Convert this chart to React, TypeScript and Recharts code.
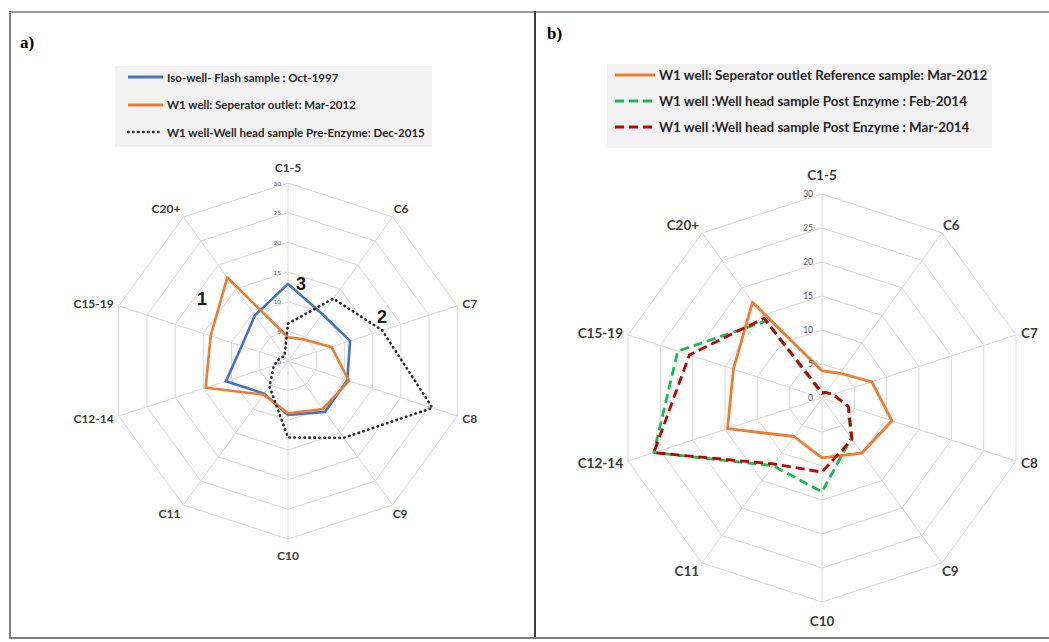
import React from 'react';
import { RadarChart, Radar, PolarGrid, PolarAngleAxis, PolarRadiusAxis } from 'recharts';

// carbon number groups, clockwise from the top
const categories = ['C1-5', 'C6', 'C7', 'C8', 'C9', 'C10', 'C11', 'C12-14', 'C15-19', 'C20+'];

// panel a)
const isoFlash1997 = [13, 9.8, 11, 10.5, 10.6, 9.1, 6.8, 11, 8.2, 9.5];
const separator2012 = [4, 4.5, 7.7, 10.8, 10, 8.8, 7, 14.6, 13.7, 17.4];
const preEnzymeDec2015 = [6.3, 13, 16.7, 25.6, 16, 12.9, 5.3, 2.5, 1.5, 1];

// panel b)
const postEnzymeFeb2014 = [0.6, 1, 1.7, 4, 7.3, 13.8, 12.3, 26, 22.3, 14];
const postEnzymeMar2014 = [0.8, 1, 1.7, 4.1, 7.5, 10.9, 12, 26, 20.5, 14.5];

const radiusTicks = [0, 5, 10, 15, 20, 25, 30];

const seriesA = [
  { key: 'iso', name: 'Iso-well- Flash sample : Oct-1997', values: isoFlash1997, color: '#4472C4', dash: undefined },
  { key: 'sep', name: 'W1 well: Seperator outlet: Mar-2012', values: separator2012, color: '#ED7D31', dash: undefined },
  { key: 'pre', name: 'W1 well-Well head sample Pre-Enzyme: Dec-2015', values: preEnzymeDec2015, color: '#262626', dash: 'dot' },
];

const seriesB = [
  { key: 'sep', name: 'W1 well: Seperator outlet Reference sample: Mar-2012', values: separator2012, color: '#ED7D31', dash: undefined },
  { key: 'feb', name: 'W1 well :Well head sample Post Enzyme : Feb-2014', values: postEnzymeFeb2014, color: '#1DB954', dash: '9 5' },
  { key: 'mar', name: 'W1 well :Well head sample Post Enzyme : Mar-2014', values: postEnzymeMar2014, color: '#C00000', dash: '9 5' },
];

const buildRows = (series: typeof seriesA) =>
  categories.map((c, i) => {
    const row: any = { cat: c };
    series.forEach(s => { row[s.key] = s.values[i]; });
    return row;
  });

const FONT = 'Lato, "Open Sans", sans-serif';

// label placement round the outer ring (anchor, dx, dy from the vertex)
const place = (i: number, top: number): [string, number, number] => {
  switch (i) {
    case 0: return ['middle', 0, -top];
    case 1: return ['start', 1, -8];
    case 2: return ['start', 5, -2];
    case 3: return ['start', 5, 2];
    case 4: return ['start', 0, 8];
    case 5: return ['middle', 0, top];
    case 6: return ['end', -3, 8];
    case 7: return ['end', -5, 2];
    case 8: return ['end', -5, -2];
    default: return ['end', -3, -8];
  }
};

const angleTick = (cx: number, cy: number, R: number, fontSize: number, top: number) => (props: any) => {
  const i = categories.indexOf(props.payload.value);
  const th = ((90 - 36 * i) * Math.PI) / 180;
  const vx = cx + R * Math.cos(th);
  const vy = cy - R * Math.sin(th);
  const [anchor, dx, dy] = place(i, top);
  return (
    <text x={vx + dx} y={vy + dy} textAnchor={anchor as any} dominantBaseline="central"
      fontSize={fontSize} fontWeight={700} fill="#3A3A3A" fontFamily={FONT}>
      {props.payload.value}
    </text>
  );
};

const radiusTick = (fontSize: number, gap: number) => (props: any) => (
  <text x={props.x - gap} y={props.y} textAnchor="end" dominantBaseline="central"
    fontSize={fontSize} fill="#595959" fontFamily={FONT}>
    {props.payload.value}
  </text>
);

function Legend({ series, left, top, width, height, rowGap, fontSize, sample }: any) {
  return (
    <div style={{ position: 'absolute', left, top, width, height, background: '#F2F2F2', fontFamily: FONT }}>
      {series.map((s: any, i: number) => (
        <div key={s.key} style={{ position: 'absolute', left: 0, top: 11 + i * rowGap - 8, height: 16, display: 'flex', alignItems: 'center' }}>
          <svg width={sample[1]} height={16} style={{ flex: 'none' }}>
            <line x1={sample[0]} x2={sample[1] - 2} y1={8} y2={8} stroke={s.color}
              strokeWidth={s.dash === 'dot' ? 2.6 : 3}
              strokeDasharray={s.dash === 'dot' ? '0.5 4.5' : s.dash}
              strokeLinecap={s.dash === 'dot' ? 'round' : 'butt'} />
          </svg>
          <span style={{ fontSize, fontWeight: 700, color: '#262626', whiteSpace: 'nowrap', marginLeft: 2 }}>{s.name}</span>
        </div>
      ))}
    </div>
  );
}

function Panel({ series, width, cx, cy, R, labelSize, tickSize, tickGap, top, lineWidth }: any) {
  const rows = buildRows(series);
  return (
    <RadarChart width={width} height={642} data={rows} cx={cx} cy={cy} outerRadius={R}
      startAngle={90} endAngle={-270} margin={{ top: 0, right: 0, bottom: 0, left: 0 }}>
      <PolarGrid gridType="polygon" stroke="#D9D9D9" strokeWidth={1} />
      <PolarAngleAxis dataKey="cat" tick={angleTick(cx, cy, R, labelSize, top)} axisLine={false} tickLine={false} />
      <PolarRadiusAxis angle={90} domain={[0, 30]} ticks={radiusTicks as any} tickCount={7}
        axisLine={false} tick={radiusTick(tickSize, tickGap)} />
      {series.map((s: any) => (
        <Radar key={s.key} dataKey={s.key} name={s.name} stroke={s.color} fill="none" fillOpacity={0}
          strokeWidth={s.dash === 'dot' ? 2.6 : lineWidth}
          strokeDasharray={s.dash === 'dot' ? '0.5 4.5' : s.dash}
          strokeLinecap={s.dash === 'dot' ? 'round' : 'butt'}
          strokeLinejoin="round"
          dot={false} isAnimationActive={false} />
      ))}
    </RadarChart>
  );
}

export default function App() {
  return (
    <div style={{ position: 'absolute', left: 0, top: 0, width: 1049, height: 642, background: '#fff', overflow: 'hidden' }}>
      {/* frame */}
      <div style={{ position: 'absolute', left: 9, top: 11, width: 1040, height: 2, background: '#9A9A9A' }} />
      <div style={{ position: 'absolute', left: 9, top: 11, width: 2, height: 628, background: '#7F7F7F' }} />
      <div style={{ position: 'absolute', left: 534, top: 11, width: 2, height: 628, background: '#404040' }} />
      <div style={{ position: 'absolute', left: 9, top: 637, width: 1040, height: 2, background: '#7F7F7F' }} />

      <div style={{ position: 'absolute', left: 0, top: 0 }}>
        <Panel series={seriesA} width={534} cx={288} cy={361} R={178} labelSize={12} tickSize={6.5} tickGap={7} top={16} lineWidth={2.6} />
      </div>
      <div style={{ position: 'absolute', left: 536, top: 0 }}>
        <Panel series={seriesB} width={513} cx={286} cy={398} R={204} labelSize={13.5} tickSize={8.5} tickGap={9} top={19} lineWidth={2.8} />
      </div>

      <Legend series={seriesA} left={115} top={66} width={317} height={81} rowGap={27.5} fontSize={11.5} sample={[13, 50]} />
      <Legend series={seriesB} left={607} top={64} width={385} height={84} rowGap={26} fontSize={13.4} sample={[8, 50]} />

      <div style={{ position: 'absolute', left: 20, top: 33, fontFamily: '"Liberation Serif", serif', fontWeight: 700, fontSize: 17 }}>a)</div>
      <div style={{ position: 'absolute', left: 547, top: 24, fontFamily: '"Liberation Serif", serif', fontWeight: 700, fontSize: 17 }}>b)</div>

      {/* curve numbers */}
      {[['1', 203, 300], ['2', 383, 318], ['3', 302, 285]].map(([t, x, y]) => (
        <div key={t as string} style={{ position: 'absolute', left: (x as number) - 6, top: (y as number) - 11, fontFamily: '"Liberation Sans", Arial, sans-serif', fontWeight: 700, fontSize: 18, color: '#1a1a1a' }}>{t}</div>
      ))}
    </div>
  );
}
